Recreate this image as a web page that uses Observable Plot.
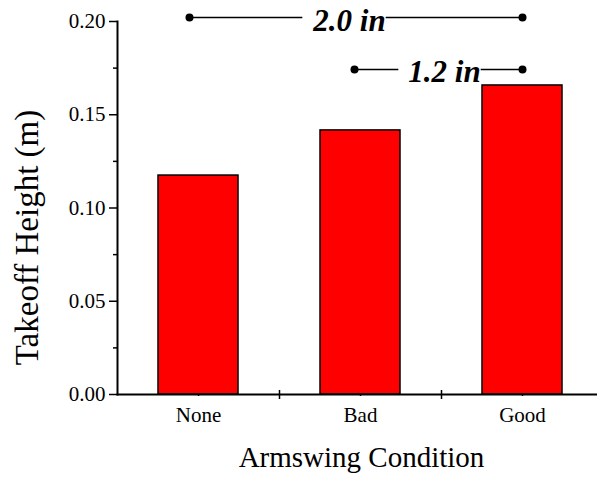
<!DOCTYPE html>
<html><head><meta charset="utf-8">
<script src="https://cdn.jsdelivr.net/npm/d3@7"></script>
<script src="https://cdn.jsdelivr.net/npm/@observablehq/plot@0.6"></script>
<style>body{margin:0;background:#fff} svg{display:block}</style>
</head><body><div id="chart"></div>
<script>
const conditions = ["None", "Bad", "Good"];
const heights = [0.1174, 0.1416, 0.1657];
const yTicks = [0, 0.05, 0.10, 0.15, 0.20];
const yMinorTicks = [0.025, 0.075, 0.125, 0.175];
const annotLabels = ["2.0 in", "1.2 in"];
const annotFrom = ["None", "Bad"];
const annotTo = ["Good", "Good"];
const annotLevel = [0.2021, 0.1743];

const bars = conditions.map((c, i) => ({condition: c, height: heights[i]}));
const annots = annotLabels.map((l, i) => ({label: l, from: annotFrom[i], to: annotTo[i], y: annotLevel[i]}));
const font = "'Liberation Serif', 'Times New Roman', serif";
const annotStyle = {x: "to", y: "y", text: "label", dy: 13, lineAnchor: "bottom", fontSize: 31, fontWeight: "bold", fontStyle: "italic", fill: "black", className: "annot-label"};
const halfBand = 40;

// one dimension line (rule + end dots + label) per annotation
function dimension(a, startShift, labelShift) {
  return [
    Plot.ruleY([a], {y: "y", x1: "from", x2: "to", insetLeft: halfBand + startShift, insetRight: halfBand, stroke: "black", strokeWidth: 1.5}),
    Plot.dot([a], {x: "from", y: "y", dx: startShift, r: 4, fill: "black"}),
    Plot.dot([a], {x: "to", y: "y", r: 4, fill: "black"}),
    Plot.text([a], {...annotStyle, dx: labelShift})
  ];
}

const plot = Plot.plot({
  width: 597, height: 479,
  marginLeft: 117, marginRight: 0, marginTop: 21, marginBottom: 85,
  style: {fontFamily: font, background: "white", color: "black", overflow: "visible"},
  x: {domain: conditions, range: [117, 603], paddingInner: 0.506, paddingOuter: 0.253},
  y: {domain: [0, 0.2]},
  marks: [
    Plot.barY(bars, {x: "condition", y: "height", fill: "#ff0000", stroke: "black", strokeWidth: 1.5}),
    Plot.axisY({ticks: yTicks, tickSize: 8, tickPadding: 4, tickFormat: d3.format(".2f"), fontSize: 21, label: null, strokeWidth: 1.5}),
    Plot.axisY({ticks: yMinorTicks, tickSize: 4, tickFormat: () => "", label: null, strokeWidth: 1.5}),
    Plot.axisX({tickSize: 2, tickPadding: 11, fontSize: 21, label: null, strokeWidth: 1.5}),
    Plot.ruleX(conditions.slice(0, 2), {x: d => d, dx: 81, y1: 0, y2: 0, insetTop: -4, insetBottom: -5, strokeWidth: 1.5}),
    Plot.frame({anchor: "left", strokeWidth: 2}),
    Plot.frame({anchor: "bottom", strokeWidth: 2}),
    Plot.text(["Armswing Condition"], {frameAnchor: "bottom", lineAnchor: "bottom", textAnchor: "middle", dx: 4, dy: 72, fontSize: 29}),
    Plot.text(["Takeoff Height (m)"], {frameAnchor: "left", lineAnchor: "bottom", textAnchor: "middle", rotate: -90, dx: -80, dy: 29.5, fontSize: 33}),
    ...dimension(annots[0], -9, -173),
    ...dimension(annots[1], -6, -78)
  ]
});
document.getElementById("chart").appendChild(plot);

// white box behind the annotation labels (interrupts the dimension lines)
const svgNS = "http://www.w3.org/2000/svg";
plot.querySelectorAll(".annot-label text, g.annot-label text, text.annot-label").forEach(t => {
  const b = t.getBBox();
  const r = document.createElementNS(svgNS, "rect");
  r.setAttribute("x", b.x - 10);
  r.setAttribute("y", b.y);
  r.setAttribute("width", b.width + 10);
  r.setAttribute("height", b.height);
  r.setAttribute("fill", "white");
  if (t.getAttribute("transform")) r.setAttribute("transform", t.getAttribute("transform"));
  t.parentNode.insertBefore(r, t);
});
</script>
</body></html>
